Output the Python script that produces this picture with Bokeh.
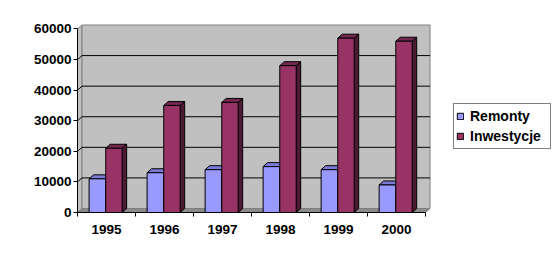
import numpy as np
from bokeh.plotting import figure
from bokeh.models import Range1d, FixedTicker, Legend, LegendItem
from bokeh.embed import file_html
from bokeh.resources import INLINE

# ---- data ----
years = ["1995", "1996", "1997", "1998", "1999", "2000"]
series = ["Remonty", "Inwestycje"]
remonty = [11000, 13000, 14000, 15000, 14000, 9000]
inwestycje = [21000, 35000, 36000, 48000, 57000, 56000]
y_ticks = [0, 10000, 20000, 30000, 40000, 50000, 60000]

# ---- styles ----
FONT = "Liberation Sans"
REM = ("#9999FF", "#7B7BD6", "#4D4D80")      # front, top, side
INW = ("#993366", "#75284F", "#4C1A33")
WALL = "#C0C0C0"
FLOOR = "#8A8A8A"
EDGE = "#808080"

n = len(years)
X_END = 6.12
Y_END = 62125
FW, FH = 355, 190
DX = 4.5 * X_END / FW        # depth offset (data units)
DY = 4.0 * Y_END / FH
YMAX = y_ticks[-1]

p = figure(frame_width=FW, frame_height=FH, x_range=Range1d(0, X_END), y_range=Range1d(0, Y_END),
           output_backend="svg", toolbar_location=None,
           min_border_left=77, min_border_top=22, min_border_bottom=44, min_border_right=127)
p.outline_line_color = None
p.grid.visible = False
p.background_fill_color = "white"
p.border_fill_color = "white"

# walls
p.patch([0, DX, DX, 0], [0, DY, YMAX + DY, YMAX], fill_color=WALL, line_color=EDGE, line_width=1)
p.patch([DX, n + DX, n + DX, DX], [DY, DY, YMAX + DY, YMAX + DY], fill_color=WALL, line_color=EDGE, line_width=1)
# floor
p.patch([0, n, n + DX, DX], [0, 0, DY, DY], fill_color=FLOOR, line_color=EDGE, line_width=1)

# gridlines
gv = [v for v in y_ticks if 0 < v < YMAX]
p.segment(x0=[DX] * len(gv), y0=[v + DY for v in gv], x1=[n + DX] * len(gv), y1=[v + DY for v in gv],
          line_color="black", line_width=1)
p.segment(x0=[0] * len(gv), y0=gv, x1=[DX] * len(gv), y1=[v + DY for v in gv],
          line_color="black", line_width=1)

def bars(vals, lo, hi, cols):
    idx = np.arange(len(vals))
    left = idx + lo
    right = idx + hi
    side_xs = [[r, r + DX, r + DX, r] for r in right]
    side_ys = [[0, DY, v + DY, v] for v in vals]
    top_xs = [[l, r, r + DX, l + DX] for l, r in zip(left, right)]
    top_ys = [[v, v, v + DY, v + DY] for v in vals]
    p.patches(side_xs, side_ys, fill_color=cols[2], line_color="black", line_width=1)
    p.patches(top_xs, top_ys, fill_color=cols[1], line_color="black", line_width=1)
    return p.quad(left=left, right=right, bottom=0, top=vals, fill_color=cols[0],
                  line_color="black", line_width=1)

r_rem = bars(remonty, 0.20, 0.487, REM)
r_inw = bars(inwestycje, 0.487, 0.77, INW)

# axes
p.yaxis.ticker = FixedTicker(ticks=y_ticks)
p.yaxis.bounds = (0, YMAX)
p.yaxis.major_tick_out = 4
p.yaxis.major_tick_in = 0
p.yaxis.minor_tick_line_color = None
p.yaxis.axis_line_color = "black"
p.yaxis.major_label_standoff = 2
p.yaxis.major_label_text_font = FONT
p.yaxis.major_label_text_font_style = "bold"
p.yaxis.major_label_text_font_size = "13.5px"
p.yaxis.major_label_text_color = "black"

centers = [i + 0.5 for i in range(n)]
p.xaxis.ticker = FixedTicker(ticks=centers, minor_ticks=list(range(n + 1)))
p.xaxis.major_label_overrides = {c: y for c, y in zip(centers, years)}
p.xaxis.bounds = (0, n)
p.xaxis.major_tick_out = 0
p.xaxis.major_tick_in = 0
p.xaxis.minor_tick_out = 4
p.xaxis.minor_tick_in = 0
p.xaxis.minor_tick_line_color = "black"
p.xaxis.axis_line_color = "black"
p.xaxis.major_label_standoff = 8
p.xaxis.major_label_text_font = FONT
p.xaxis.major_label_text_font_style = "bold"
p.xaxis.major_label_text_font_size = "13.5px"
p.xaxis.major_label_text_color = "black"

legend = Legend(items=[LegendItem(label=series[0], renderers=[r_rem]),
                       LegendItem(label=series[1], renderers=[r_inw])],
                location=(21, 63))
legend.border_line_color = "black"
legend.border_line_width = 1
legend.background_fill_color = "white"
legend.padding = 2
legend.spacing = 0
legend.margin = 0
legend.label_height = 20
legend.label_width = 78
legend.glyph_height = 8
legend.glyph_width = 8
legend.label_standoff = 6
legend.label_text_font = FONT
legend.label_text_font_style = "bold"
legend.label_text_font_size = "14px"
legend.label_text_color = "black"
p.add_layout(legend, "right")

open("out.html", "w").write(file_html(p, INLINE))
